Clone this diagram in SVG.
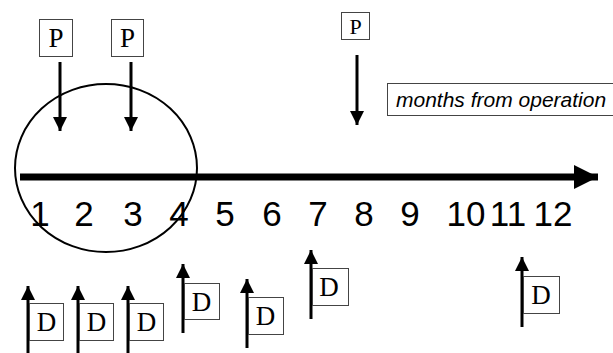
<svg xmlns="http://www.w3.org/2000/svg" width="613" height="353" viewBox="0 0 613 353">
<style>
.box{fill:#fff;stroke:#444;stroke-width:1}
.st{font-family:"Liberation Serif","Times New Roman",serif;fill:#000;text-anchor:middle}
.big{font-size:27px}
.num{font-family:"Liberation Sans",Arial,sans-serif;font-size:35px;fill:#000;text-anchor:middle}
.lbl{font-family:"Liberation Sans",Arial,sans-serif;font-style:italic;font-size:21px;fill:#000}
.c{stroke:#000;stroke-width:3;fill:none}
</style>
<defs>
<marker id="ah" viewBox="0 0 14 14" refX="14" refY="7" markerWidth="14" markerHeight="14" markerUnits="userSpaceOnUse" orient="auto">
<path d="M0,0 L14,7 L0,14 z" fill="#000"/>
</marker>
<marker id="big" viewBox="0 0 24 24" refX="24" refY="12" markerWidth="24" markerHeight="24" markerUnits="userSpaceOnUse" orient="auto">
<path d="M0,0 L24,12 L0,24 z" fill="#000"/>
</marker>
</defs>
<rect width="613" height="353" fill="#fff"/>
<g id="circle"><ellipse cx="106" cy="168" rx="91" ry="84" fill="none" stroke="#000" stroke-width="2"/></g>
<g id="connectors">
<line x1="20" y1="177" x2="598" y2="177" stroke="#000" stroke-width="7" marker-end="url(#big)"/>
<line class="c" x1="60" y1="62" x2="60" y2="131" marker-end="url(#ah)"/>
<line class="c" x1="131" y1="62" x2="131" y2="131" marker-end="url(#ah)"/>
<line class="c" x1="357" y1="55" x2="357" y2="125" marker-end="url(#ah)"/>
<line class="c" x1="28" y1="353" x2="28" y2="286" marker-end="url(#ah)"/>
<line class="c" x1="78" y1="353" x2="78" y2="286" marker-end="url(#ah)"/>
<line class="c" x1="128" y1="353" x2="128" y2="286" marker-end="url(#ah)"/>
<line class="c" x1="183" y1="333" x2="183" y2="264" marker-end="url(#ah)"/>
<line class="c" x1="247" y1="348" x2="247" y2="279" marker-end="url(#ah)"/>
<line class="c" x1="311" y1="319" x2="311" y2="250" marker-end="url(#ah)"/>
<line class="c" x1="522" y1="327" x2="522" y2="257" marker-end="url(#ah)"/>
</g>
<g id="P1"><rect class="box" x="39.5" y="19.5" width="33" height="37"/><text class="st big" x="56" y="47">P</text></g>
<g id="P2"><rect class="box" x="111.5" y="19.5" width="32" height="37"/><text class="st big" x="127.5" y="47">P</text></g>
<g id="P3"><rect class="box" x="341.5" y="12.5" width="28" height="27"/><text class="st" x="355.5" y="34" font-size="22">P</text></g>
<g id="label"><rect class="box" x="387.5" y="83.5" width="230" height="32"/><text class="lbl" x="396" y="107">months from operation</text></g>
<g id="axis">
<text class="num" x="40" y="226">1</text>
<text class="num" x="84" y="226">2</text>
<text class="num" x="133" y="226">3</text>
<text class="num" x="179" y="226">4</text>
<text class="num" x="225" y="226">5</text>
<text class="num" x="272" y="226">6</text>
<text class="num" x="318" y="226">7</text>
<text class="num" x="364" y="226">8</text>
<text class="num" x="410" y="226">9</text>
<text class="num" x="466" y="226">10</text>
<text class="num" x="508" y="226">11</text>
<text class="num" x="553" y="226">12</text>
</g>
<g id="D1"><rect class="box" x="29.5" y="303.5" width="34" height="37"/><text class="st big" x="46.5" y="331">D</text></g>
<g id="D2"><rect class="box" x="79.5" y="303.5" width="34" height="37"/><text class="st big" x="96.5" y="331">D</text></g>
<g id="D3"><rect class="box" x="129.5" y="303.5" width="34" height="37"/><text class="st big" x="146.5" y="331">D</text></g>
<g id="D4"><rect class="box" x="184.5" y="283.5" width="35" height="36"/><text class="st big" x="201.5" y="311">D</text></g>
<g id="D5"><rect class="box" x="248.5" y="297.5" width="35" height="37"/><text class="st big" x="265.5" y="325">D</text></g>
<g id="D6"><rect class="box" x="312.5" y="268.5" width="36" height="37"/><text class="st big" x="329" y="296">D</text></g>
<g id="D7"><rect class="box" x="523.5" y="276.5" width="36" height="37"/><text class="st big" x="541" y="304">D</text></g>
</svg>
